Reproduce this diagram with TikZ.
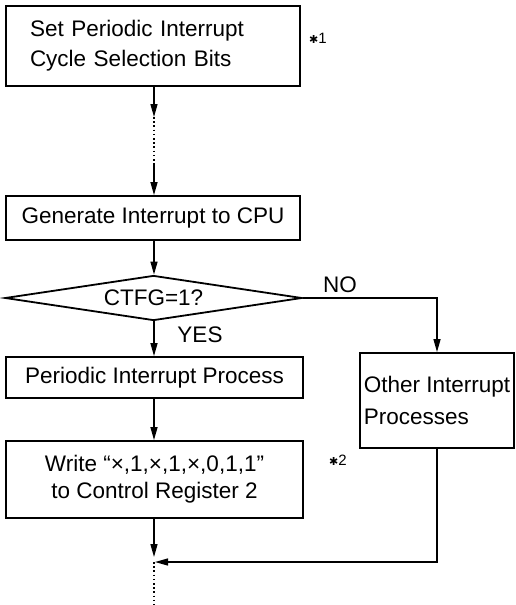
\documentclass[tikz,border=0pt]{standalone}
\usepackage{fontspec}
\setmainfont{Liberation Sans}
\newfontfamily\symfont{DejaVu Sans}
\usetikzlibrary{shapes.geometric,arrows.meta}
\begin{document}
\begin{tikzpicture}[x=1pt,y=-1pt,
  box/.style={draw,line width=1.8pt,rectangle,inner sep=0pt,font=\fontsize{22.5}{30}\selectfont},
  flow/.style={line width=1.3pt,-{Triangle[length=13pt,width=7pt]}},
  dots/.style={line width=1.3pt,dash pattern=on 1.6pt off 2.6pt},
  lbl/.style={inner sep=0pt,font=\fontsize{22.5}{26}\selectfont},
  note/.style={inner sep=0pt,anchor=west,font=\fontsize{15}{18}\selectfont}]
\useasboundingbox (0,0) rectangle (515,605);
% boxes
\node[box,minimum width=294pt,minimum height=80pt,align=left,text width=246pt] (b1) at (153,46)
  {Set Periodic Interrupt\\Cycle Selection Bits};
\node[box,minimum width=294pt,minimum height=44pt] (b2) at (153,218) {Generate Interrupt to CPU};
\node[draw,line width=1.8pt,diamond,aspect=6.6,inner sep=0pt,minimum width=297pt,minimum height=45pt,
  font=\fontsize{22.5}{26}\selectfont] (d) at (153.5,298) {CTFG=1?};
\node[box,minimum width=297pt,minimum height=41pt] (b3) at (154.5,377.5) {Periodic Interrupt Process};
\node[box,minimum width=297pt,minimum height=77pt,align=center,font=\fontsize{22.5}{27}\selectfont] (b4) at (154.5,479.5)
  {Write “×,1,×,1,×,0,1,1”\\to Control Register 2};
\node[box,minimum width=154pt,minimum height=95pt,align=left,font=\fontsize{22.5}{32}\selectfont] (b5) at (437,400.5)
  {Other Interrupt\\Processes};
% labels
\node[lbl] (yes) at (200,335) {YES};
\node[lbl] (no) at (340,285) {NO};
\node[note] (n1) at (309,38) {{\symfont\fontsize{11}{11}\selectfont ✱}1};
\node[note] (n2) at (329,460) {{\symfont\fontsize{11}{11}\selectfont ✱}2};
% coordinates
\coordinate (a1) at (154,117);
\coordinate (a2) at (154,165);
\coordinate (j1) at (154,557);
\coordinate (j2) at (155,562);
\coordinate (j3) at (154,562);
\coordinate (e) at (154,605);
% connectors
\draw[flow] (b1.south -| a1) -- (a1);
\draw[dots] (a1) -- (a2);
\draw[flow] (a2) -- (b2.north -| a2);
\draw[flow] (b2.south -| a1) -- (d.north -| a1);
\draw[flow] (d.south -| a1) -- (b3.north -| a1);
\draw[flow] (b3.south -| a1) -- (b4.north -| a1);
\draw[flow] (d.east) -| (b5.north);
\draw[flow] (b4.south -| a1) -- (j1);
\draw[flow] (b5.south) |- (j2);
\draw[dots] (j3) -- (e);
\end{tikzpicture}
\end{document}
